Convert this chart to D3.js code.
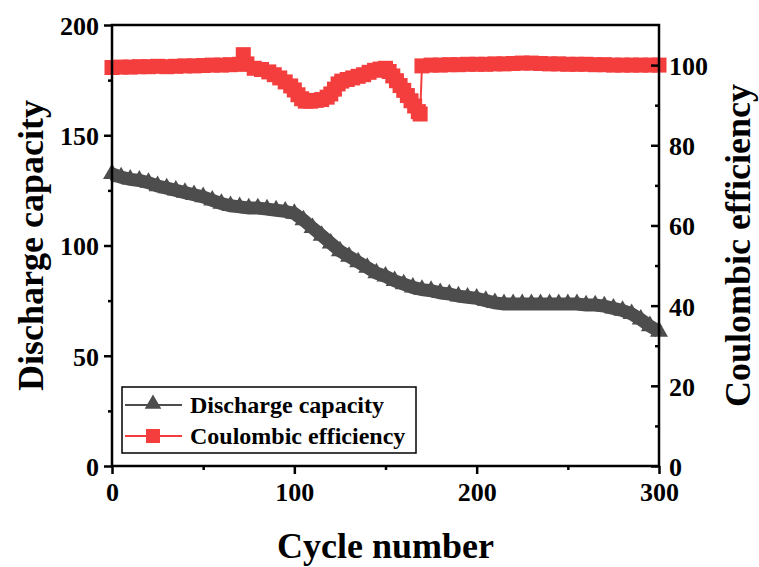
<!DOCTYPE html>
<html>
<head>
<meta charset="utf-8">
<script src="https://cdn.jsdelivr.net/npm/d3@7/dist/d3.min.js"></script>
<style>
  body { margin: 0; background: #fff; }
  svg text { font-family: "Liberation Serif", "Times New Roman", serif; font-weight: bold; fill: #000; }
</style>
</head>
<body>
<div id="chart"></div>
<script>
// Colores fijos
const COLOR_RED = '#f43e3e',
  COLOR_GREY = '#4d4d4d';

// Datos: capacidad de descarga
const capCycles = [0,5,10,15,20,25,30,35,40,45,50,55,60,65,70,75,80,85,90,95,100,105,110,115,120,125,130,135,140,145,150,155,160,165,170,175,180,185,190,195,200,205,210,215,220,225,230,235,240,245,250,255,260,265,270,275,280,285,290,295,300];
const capValues = [132.5,131,130,129.5,128.5,127,126,125,124,123,122,120.5,119,118,117.5,117,117,116.5,116,115.5,114.5,111.5,108,104.5,101,97.5,95,92.5,90,87.5,86,84,82.5,81,80,79.5,78.5,78,77,76.5,76,75,74,73.5,73.5,73.5,73.5,73.5,73.5,73.5,73.5,73.5,73,73,72.5,71.5,70.5,69,66.5,63.5,61];

// Datos: eficiencia coulombica
const ceCycles = [0,5,10,15,20,25,30,35,40,45,50,55,60,65,70,72,74,78,82,86,89,92,95,98,100,102,104,106,109,112,115,118,120,122,124,126,129,132,135,138,141,144,147,150,152,154,156,158,160,162,164,166,168,169,170,175,180,185,190,195,200,205,210,215,220,225,230,235,240,245,250,255,260,265,270,275,280,285,290,295,300];
const ceValues = [99.4,99.5,99.5,99.6,99.6,99.7,99.6,99.7,99.8,99.8,99.9,100,100,100.1,100.2,102.6,100.3,99.2,98.9,98.3,97.6,96.8,95.8,94.8,93.8,92.6,91.6,91,91,91.2,91.4,92,92.8,94,95.3,96,96.4,96.8,97.2,97.6,98.2,98.7,99,99.2,98.4,97.3,96.1,94.9,93.7,92.4,91.1,89.8,88.4,87.8,99.8,100,100,100.1,100.1,100.2,100.2,100.2,100.3,100.3,100.4,100.5,100.5,100.4,100.3,100.3,100.2,100.2,100.2,100.1,100.1,100,100,100,100,100,100];

// Ticks
const xTicks = [0,100,200,300], xMinor = [50,150,250];
const yLeftTicks = [0,50,100,150,200], yLeftMinor = [25,75,125,175];
const yRightTicks = [0,20,40,60,80,100], yRightMinor = [10,30,50,70,90];

const capData = capCycles.map((c, i) => ({ x: c, y: capValues[i] }));
const ceData = ceCycles.map((c, i) => ({ x: c, y: ceValues[i] }));

let margin = { top: 25, right: 100, bottom: 101, left: 112 },
  W = 759, H = 567,
  width = W - margin.left - margin.right,
  height = H - margin.top - margin.bottom;

let svg = d3.select('#chart').append('svg')
  .attr('width', W).attr('height', H);

let g = svg.append('g')
  .attr('transform', 'translate(' + margin.left + ',' + margin.top + ')');

let x = d3.scaleLinear().domain([0, 300]).range([0, width]);
let yL = d3.scaleLinear().domain([0, 200]).range([height, 0]);
let yR = d3.scaleLinear().domain([0, 110]).range([height, 0]);

// Series: capacidad
g.append('path')
  .datum(capData)
  .attr('fill', 'none')
  .attr('stroke', COLOR_GREY)
  .attr('stroke-width', 13)
  .attr('d', d3.line().x(d => x(d.x)).y(d => yL(d.y)));

let tri = d3.symbol().type(d3.symbolTriangle).size(140);
g.append('g').selectAll('path')
  .data(capData).enter().append('path')
  .attr('d', tri)
  .attr('fill', COLOR_GREY)
  .attr('transform', d => 'translate(' + x(d.x) + ',' + yL(d.y) + ')');

// Series: eficiencia
g.append('path')
  .datum(ceData)
  .attr('fill', 'none')
  .attr('stroke', COLOR_RED)
  .attr('stroke-width', 2)
  .attr('d', d3.line().x(d => x(d.x)).y(d => yR(d.y)));

let sq = 15;
g.append('g').selectAll('rect')
  .data(ceData).enter().append('rect')
  .attr('x', d => x(d.x) - sq / 2)
  .attr('y', d => yR(d.y) - sq / 2)
  .attr('width', sq).attr('height', sq)
  .attr('fill', COLOR_RED);

// Ejes
function styleAxis(sel) {
  sel.select('.domain').remove();
  sel.selectAll('line').attr('stroke', '#000').attr('stroke-width', 2.5);
  sel.selectAll('text').style('font-size', '26px');
}

g.append('g').attr('transform', 'translate(0,' + height + ')')
  .call(d3.axisBottom(x).tickValues(xTicks).tickSize(8).tickPadding(9))
  .call(styleAxis);
g.append('g').attr('transform', 'translate(0,' + height + ')')
  .call(d3.axisBottom(x).tickValues(xMinor).tickSize(4).tickFormat(''))
  .call(styleAxis);

g.append('g')
  .call(d3.axisLeft(yL).tickValues(yLeftTicks).tickSize(8).tickPadding(5))
  .call(styleAxis)
  .selectAll('text').attr('dy', '0.36em');
g.append('g')
  .call(d3.axisLeft(yL).tickValues(yLeftMinor).tickSize(4).tickFormat(''))
  .call(styleAxis);

// Eje derecho: marcas hacia dentro
g.append('g').attr('transform', 'translate(' + width + ',0)')
  .call(d3.axisRight(yR).tickValues(yRightTicks).tickSizeInner(-8).tickSizeOuter(0).tickPadding(10))
  .call(styleAxis)
  .selectAll('text').attr('dy', '0.36em');
g.append('g').attr('transform', 'translate(' + width + ',0)')
  .call(d3.axisRight(yR).tickValues(yRightMinor).tickSizeInner(-4).tickSizeOuter(0).tickFormat(''))
  .call(styleAxis);

// Marco
g.append('rect')
  .attr('width', width).attr('height', height)
  .attr('fill', 'none').attr('stroke', '#000').attr('stroke-width', 2.5);

// Títulos
svg.append('text')
  .attr('x', margin.left + width / 2).attr('y', 558)
  .attr('text-anchor', 'middle')
  .style('font-size', '36px')
  .text('Cycle number');

svg.append('text')
  .attr('transform', 'translate(43,' + (margin.top + height / 2) + ') rotate(-90)')
  .attr('text-anchor', 'middle')
  .style('font-size', '36px')
  .text('Discharge capacity');

svg.append('text')
  .attr('transform', 'translate(750,' + (margin.top + height / 2) + ') rotate(-90)')
  .attr('text-anchor', 'middle')
  .style('font-size', '36px')
  .text('Coulombic efficiency');

// Leyenda
let legend = svg.append('g').attr('transform', 'translate(122,387)');
legend.append('rect')
  .attr('width', 294).attr('height', 66)
  .attr('fill', '#fff').attr('stroke', '#000').attr('stroke-width', 1.5);

let items = [
  { name: 'Discharge capacity', color: COLOR_GREY, shape: 'tri', y: 18 },
  { name: 'Coulombic efficiency', color: COLOR_RED, shape: 'sq', y: 49 }
];
items.forEach(function(it) {
  legend.append('line')
    .attr('x1', 3).attr('x2', 60).attr('y1', it.y).attr('y2', it.y)
    .attr('stroke', it.color).attr('stroke-width', 2);
  if (it.shape === 'tri') {
    legend.append('path')
      .attr('d', d3.symbol().type(d3.symbolTriangle).size(120)())
      .attr('fill', it.color)
      .attr('transform', 'translate(31,' + (it.y - 1) + ')');
  } else {
    legend.append('rect')
      .attr('x', 24).attr('y', it.y - 7).attr('width', 14).attr('height', 14)
      .attr('fill', it.color);
  }
  legend.append('text')
    .attr('x', 68).attr('y', it.y).attr('dy', '0.35em')
    .style('font-size', '24px')
    .text(it.name);
});
</script>
</body>
</html>
